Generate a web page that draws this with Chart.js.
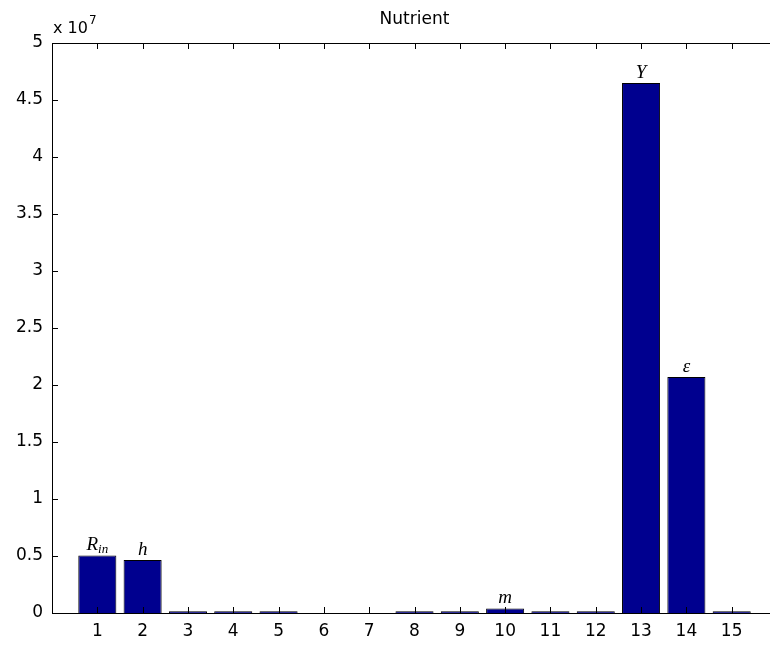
<!DOCTYPE html>
<html>
<head>
<meta charset="utf-8">
<script src="https://cdn.jsdelivr.net/npm/chart.js@4.4.1/dist/chart.umd.min.js"></script>
<style>
html,body{margin:0;padding:0;background:#fff;overflow:hidden;}
#wrap{width:770px;height:647px;overflow:hidden;}
</style>
</head>
<body>
<div id="wrap"><canvas id="c" width="780" height="647"></canvas></div>
<script>
// Data
const categories = [1,2,3,4,5,6,7,8,9,10,11,12,13,14,15];
const values = [5.05e6, 4.65e6, 1.5e5, 1.5e5, 1.5e5, 0, 0, 1.5e5, 1.5e5, 4.0e5, 1.5e5, 1.5e5, 4.65e7, 2.07e7, 1.5e5];
const barLabels = {1:['R','in'], 2:['h',''], 10:['m',''], 13:['Y',''], 14:['\u03b5','']};
const yTickValues = [0,0.5,1,1.5,2,2.5,3,3.5,4,4.5,5];
const titleText = 'Nutrient';
const exponentBase = 'x 10';
const exponentPow = '7';

const TICK_FONT = {family:'"DejaVu Sans", sans-serif', size:17};

const boxPlugin = {
  id:'boxPlugin',
  afterDraw(chart){
    const ctx = chart.ctx, a = chart.chartArea;
    const xs = chart.scales.x, ys = chart.scales.y;
    ctx.save();
    ctx.strokeStyle = '#000';
    ctx.lineWidth = 1;
    ctx.beginPath();
    ctx.rect(Math.round(a.left)+0.5, Math.round(a.top)+0.5, Math.round(a.right-a.left), Math.round(a.bottom-a.top));
    ctx.stroke();
    const L = 6;
    ctx.beginPath();
    categories.forEach(c=>{
      const px = Math.round(xs.getPixelForValue(c))+0.5;
      ctx.moveTo(px, a.bottom); ctx.lineTo(px, a.bottom-L);
      ctx.moveTo(px, a.top); ctx.lineTo(px, a.top+L);
    });
    yTickValues.forEach(v=>{
      const py = Math.round(ys.getPixelForValue(v*1e7))+0.5;
      ctx.moveTo(a.left, py); ctx.lineTo(a.left+L, py);
      ctx.moveTo(a.right, py); ctx.lineTo(a.right-L, py);
    });
    ctx.stroke();
    // exponent label
    ctx.fillStyle = '#000';
    ctx.textBaseline = 'alphabetic';
    ctx.textAlign = 'left';
    ctx.font = '16px "DejaVu Sans", sans-serif';
    ctx.fillText(exponentBase, a.left+1, a.top-10);
    const w = ctx.measureText(exponentBase).width;
    ctx.font = '12px "DejaVu Sans", sans-serif';
    ctx.fillText(exponentPow, a.left+1+w+1, a.top-19);
    // bar labels
    const meta = chart.getDatasetMeta(0);
    meta.data.forEach((bar, i)=>{
      const lab = barLabels[categories[i]];
      if(!lab) return;
      ctx.font = 'italic 19px "Liberation Serif", serif';
      const mw = ctx.measureText(lab[0]).width;
      ctx.font = 'italic 13px "Liberation Serif", serif';
      const sw = lab[1] ? ctx.measureText(lab[1]).width : 0;
      const x0 = bar.x - (mw+sw)/2;
      const yb = bar.y - 5;
      ctx.font = 'italic 19px "Liberation Serif", serif';
      ctx.fillText(lab[0], x0, yb);
      if(lab[1]){
        ctx.font = 'italic 13px "Liberation Serif", serif';
        ctx.fillText(lab[1], x0+mw, yb+3);
      }
    });
    ctx.restore();
  }
};

new Chart(document.getElementById('c'), {
  type:'bar',
  data:{
    datasets:[{
      data: categories.map((c,i)=>({x:c, y:values[i]})),
      backgroundColor:'rgb(0,0,143)',
      borderColor:'#000',
      borderWidth:1,
      barPercentage:0.84,
      categoryPercentage:1
    }]
  },
  options:{
    responsive:false,
    animation:false,
    layout:{padding:{left:0,right:3,top:0,bottom:0}},
    plugins:{
      legend:{display:false},
      tooltip:{enabled:false},
      title:{display:true, text:titleText, color:'#000', fullSize:false,
        font:{family:'"DejaVu Sans", sans-serif', size:17, weight:'normal'},
        padding:{top:9, bottom:13.6}}
    },
    scales:{
      x:{
        type:'linear', min:0, max:16, offset:false,
        grid:{display:false, drawTicks:false, offset:false},
        border:{display:false},
        afterBuildTicks(s){ s.ticks = categories.map(v=>({value:v})); },
        ticks:{color:'#000', font:TICK_FONT, padding:8, maxRotation:0, autoSkip:false,
          callback:(v)=>String(v)},
        afterFit(s){ s.height = 34; }
      },
      y:{
        min:0, max:5e7,
        grid:{display:false, drawTicks:false},
        border:{display:false},
        afterBuildTicks(s){ s.ticks = yTickValues.map(v=>({value:v*1e7})); },
        ticks:{color:'#000', font:TICK_FONT, padding:9,
          callback:(v)=>String(Math.round(v/1e6)/10)},
        afterFit(s){ s.width = 52; }
      }
    }
  },
  plugins:[boxPlugin]
});
</script>
</body>
</html>
